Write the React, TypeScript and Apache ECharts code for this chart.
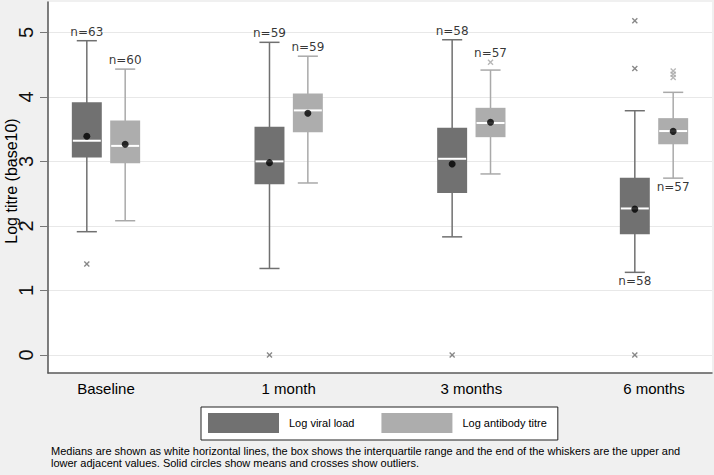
import React, { useEffect, useRef } from "react";
import * as echarts from "echarts";

const categories = ["Baseline", "1 month", "3 months", "6 months"];
const yTicks = [0, 1, 2, 3, 4, 5];

// Log viral load
const viralLower = [1.91, 1.34, 1.83, 1.28];
const viralQ1 = [3.06, 2.645, 2.51, 1.87];
const viralMedian = [3.32, 3.0, 3.04, 2.27];
const viralQ3 = [3.915, 3.535, 3.52, 2.745];
const viralUpper = [4.87, 4.845, 4.885, 3.785];
const viralMean = [3.39, 2.98, 2.96, 2.26];
const viralN = [63, 59, 58, 58];
const viralOutliers = [[1.41], [0], [0], [5.18, 4.44, 0]];
const viralLabelPos = ["top", "top", "top", "bottom"];

// Log antibody titre
const abLower = [2.08, 2.665, 2.805, 2.74];
const abQ1 = [2.97, 3.45, 3.375, 3.265];
const abMedian = [3.24, 3.79, 3.595, 3.47];
const abQ3 = [3.635, 4.05, 3.83, 3.67];
const abUpper = [4.43, 4.63, 4.415, 4.07];
const abMean = [3.265, 3.745, 3.605, 3.465];
const abN = [60, 59, 57, 57];
const abOutliers = [[], [], [4.535], [4.4, 4.35, 4.3]];
const abLabelPos = ["top", "top", "top", "bottom"];

const CAPTION =
  "Medians are shown as white horizontal lines, the box shows the interquartile range and the end of the whiskers are the upper and\nlower adjacent values. Solid circles show means and crosses show outliers.";

const DARK = "#717171";
const DARK_LINE = "#707070";
const LIGHT = "#adadad";
const LIGHT_LINE = "#a9a9a9";
// x layout in axis units (one category step = 1000)
const X_MAX = 3635;
const FIRST = 317.5;
const STEP = 1000;
const OFFSET = 105;
const BOX_HALF = 82;
const CAP_HALF = 55;
const FONT = "Liberation Sans, Arial, sans-serif";
const CROSS = "path://M0,1.6L1.6,0L5,3.4L8.4,0L10,1.6L6.6,5L10,8.4L8.4,10L5,6.6L1.6,10L0,8.4L3.4,5Z";

const catX = (i: number) => FIRST + i * STEP;

function boxRows(off: number, lo: number[], q1: number[], md: number[], q3: number[], hi: number[]) {
  return categories.map((_, i) => [catX(i) + off, lo[i], q1[i], md[i], q3[i], hi[i]]);
}

function makeRender(boxColor: string, lineColor: string) {
  return (params: any, api: any) => {
    const x = api.value(0);
    const pLo = api.coord([x, api.value(1)]);
    const pQ1 = api.coord([x, api.value(2)]);
    const pMd = api.coord([x, api.value(3)]);
    const pQ3 = api.coord([x, api.value(4)]);
    const pHi = api.coord([x, api.value(5)]);
    const hw = api.size([BOX_HALF, 0])[0];
    const cw = api.size([CAP_HALF, 0])[0];
    const cx = pMd[0];
    const ls = { stroke: lineColor, lineWidth: 1.5 };
    return {
      type: "group",
      children: [
        { type: "line", shape: { x1: cx, y1: pLo[1], x2: cx, y2: pHi[1] }, style: ls },
        { type: "line", shape: { x1: cx - cw, y1: pLo[1], x2: cx + cw, y2: pLo[1] }, style: ls },
        { type: "line", shape: { x1: cx - cw, y1: pHi[1], x2: cx + cw, y2: pHi[1] }, style: ls },
        {
          type: "rect",
          shape: { x: cx - hw, y: pQ3[1], width: 2 * hw, height: pQ1[1] - pQ3[1] },
          style: { fill: boxColor },
        },
        {
          type: "line",
          shape: { x1: cx - hw + 1, y1: pMd[1], x2: cx + hw - 1, y2: pMd[1] },
          style: { stroke: "#ffffff", lineWidth: 2 },
        },
      ],
    };
  };
}

function outlierPoints(off: number, outs: number[][]) {
  const pts: number[][] = [];
  outs.forEach((arr, i) => arr.forEach((v) => pts.push([catX(i) + off, v])));
  return pts;
}

function labelPoints(off: number, n: number[], pos: string[], hi: number[], lo: number[], outs: number[][]) {
  return categories.map((_, i) => {
    const anchor = pos[i] === "top" ? Math.max(hi[i], ...outs[i]) : lo[i];
    return { value: [catX(i) + off, anchor, n[i]], label: { position: pos[i] } };
  });
}

export default function App() {
  const ref = useRef<HTMLDivElement>(null);
  useEffect(() => {
    if (!ref.current) return;
    const chart = echarts.init(ref.current, null, { renderer: "svg" });
    const labelSeries = (name: string, data: any[]) => ({
      type: "scatter",
      name,
      data,
      symbolSize: 0,
      silent: true,
      z: 5,
      label: {
        show: true,
        distance: 3,
        fontSize: 12,
        fontFamily: "DejaVu Sans",
        color: "#000",
        formatter: (p: any) => "n=" + p.value[2],
      },
    });
    chart.setOption({
      animation: false,
      backgroundColor: "#f0f0f0",
      title: {
        text: CAPTION,
        left: 51,
        top: 445,
        padding: 0,
        textStyle: { fontSize: 11, fontWeight: "normal", fontFamily: FONT, color: "#000", lineHeight: 12 },
      },
      legend: {
        left: 201,
        top: 407,
        orient: "horizontal",
        padding: [6, 11, 7, 7],
        itemWidth: 71,
        itemHeight: 20,
        itemGap: 27,
        borderColor: "#222",
        borderWidth: 1,
        backgroundColor: "#ffffff",
        icon: "rect",
        selectedMode: false,
        textStyle: { fontSize: 11, fontFamily: FONT, color: "#000", padding: [0, 0, 0, 5] },
        data: ["Log viral load", "Log antibody titre"],
      },
      grid: {
        left: 48,
        right: 2,
        top: 2,
        bottom: 102,
        show: true,
        backgroundColor: "#ffffff",
        borderWidth: 0,
        outerBoundsMode: "none",
      },
      xAxis: {
        type: "value",
        min: 0,
        max: X_MAX,
        axisLine: { show: true, onZero: false, lineStyle: { color: "#5a5a5a", width: 1.5 } },
        axisTick: { show: false },
        splitLine: { show: false },
        axisLabel: {
          customValues: categories.map((_, i) => catX(i)),
          formatter: (v: number) => categories[Math.round((v - FIRST) / STEP)],
          fontSize: 15,
          fontFamily: FONT,
          color: "#000",
          margin: 8,
        },
      },
      yAxis: {
        type: "value",
        min: -0.28,
        max: 5.47,
        name: "Log titre (base10)",
        nameLocation: "middle",
        nameRotate: 90,
        nameGap: 29,
        nameMoveOverlap: false,
        nameTextStyle: { fontSize: 16, fontFamily: FONT, color: "#000", padding: [0, 0, 0, 13] },
        axisLine: { show: true, onZero: false, lineStyle: { color: "#555", width: 1.5 } },
        axisTick: { show: true, length: 8, customValues: yTicks, lineStyle: { color: "#777", width: 1 } },
        axisLabel: { customValues: yTicks, rotate: 90, fontSize: 20, fontFamily: FONT, color: "#111", margin: 12 },
        splitLine: { show: true, lineStyle: { color: "#e8e8e8", width: 1.2 } },
      },
      series: [
        {
          type: "custom",
          name: "Log viral load",
          itemStyle: { color: DARK },
          renderItem: makeRender(DARK, DARK_LINE),
          encode: { x: 0, y: [1, 2, 3, 4, 5] },
          data: boxRows(-OFFSET, viralLower, viralQ1, viralMedian, viralQ3, viralUpper),
          z: 2,
        },
        {
          type: "custom",
          name: "Log antibody titre",
          itemStyle: { color: LIGHT },
          renderItem: makeRender(LIGHT, LIGHT_LINE),
          encode: { x: 0, y: [1, 2, 3, 4, 5] },
          data: boxRows(OFFSET, abLower, abQ1, abMedian, abQ3, abUpper),
          z: 2,
        },
        {
          type: "scatter",
          name: "viral outliers",
          symbol: CROSS,
          symbolSize: 6,
          itemStyle: { color: "#6a6a6a" },
          data: outlierPoints(-OFFSET, viralOutliers),
          z: 3,
        },
        {
          type: "scatter",
          name: "antibody outliers",
          symbol: CROSS,
          symbolSize: 6,
          itemStyle: { color: "#a5a5a5" },
          data: outlierPoints(OFFSET, abOutliers),
          z: 3,
        },
        {
          type: "scatter",
          name: "means",
          symbol: "circle",
          symbolSize: 7,
          itemStyle: { color: "#000" },
          data: [
            ...viralMean.map((v, i) => [catX(i) - OFFSET, v]),
            ...abMean.map((v, i) => [catX(i) + OFFSET, v]),
          ],
          z: 4,
        },
        labelSeries("viral n", labelPoints(-OFFSET, viralN, viralLabelPos, viralUpper, viralLower, viralOutliers)),
        labelSeries("antibody n", labelPoints(OFFSET, abN, abLabelPos, abUpper, abLower, abOutliers)),
      ],
    });
    return () => chart.dispose();
  }, []);
  return (
    <div
      ref={ref}
      style={{ position: "absolute", left: 0, top: 0, width: 714, height: 475 }}
    />
  );
}
